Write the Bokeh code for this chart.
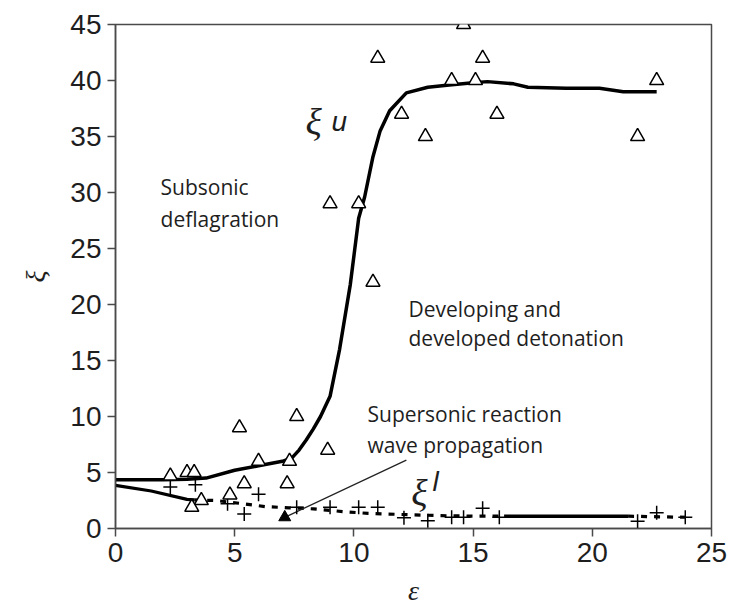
from bokeh.plotting import figure
from bokeh.models import Label, Range1d, FixedTicker
from bokeh.embed import file_html
from bokeh.resources import INLINE

# Upper limit xi_u: measured points (open triangles)
eps_u = [14.6, 11.0, 15.4, 14.1, 15.1, 22.7, 12.0, 16.0, 13.0, 21.9,
         9.0, 10.2, 10.8, 7.6, 5.2, 8.9, 6.0, 7.3, 2.3, 3.0, 3.3,
         5.4, 7.2, 4.8, 3.6, 3.2]
xi_u = [45, 42, 42, 40, 40, 40, 37, 37, 35, 35,
        29, 29, 22, 10, 9, 7, 6, 6, 4.7, 5, 5,
        4, 4, 3, 2.5, 1.9]

# Lower limit xi_l: measured points (crosses)
eps_l = [2.3, 3.35, 4.7, 5.4, 6.0, 7.6, 9.0, 10.2, 11.0, 12.1, 13.1,
         14.1, 14.6, 15.4, 16.1, 21.9, 22.7, 23.9]
xi_l = [3.7, 3.9, 2.2, 1.3, 3.05, 1.9, 1.9, 1.9, 1.9, 0.95, 0.7,
        1.0, 1.0, 1.8, 1.0, 0.65, 1.4, 1.0]

# Fitted boundary curves
fit_u_eps = [0, 1, 2, 3, 3.8, 5.0, 6.0, 7.0, 7.4, 7.7, 8.0, 8.3, 8.6, 9.0,
             9.4, 9.85, 10.2, 10.45, 10.8, 11.1, 11.5, 12.2, 13.1, 14.0,
             15.0, 15.6, 16.7, 17.3, 18.9, 20.3, 21.3, 22.7]
fit_u_xi = [4.35, 4.35, 4.35, 4.4, 4.5, 5.2, 5.6, 6.0, 6.3, 7.0, 7.9, 8.9,
            10.0, 11.8, 16.0, 21.8, 27.7, 29.6, 33.2, 35.5, 37.3, 38.9, 39.4,
            39.6, 39.8, 39.9, 39.7, 39.4, 39.3, 39.3, 39.0, 39.0]

fit_l_eps = [0, 1.5, 3.0, 3.3, 4.2, 5.4, 6.3, 7.3, 8.3, 9.6, 10.6, 12.0,
             13.6, 15.0, 16.3, 21.5, 24.0]
fit_l_xi = [3.85, 3.35, 2.6, 2.55, 2.5, 2.2, 1.95, 1.85, 1.75, 1.5, 1.35,
            1.25, 1.15, 1.1, 1.1, 1.1, 1.0]

# Supersonic-reaction pointer: from the text to the filled marker
pointer_eps = [12.2, 7.1]
pointer_xi = [6.1, 1.0]

x_ticks = [0, 5, 10, 15, 20, 25]
y_ticks = [0, 5, 10, 15, 20, 25, 30, 35, 40, 45]

AX = "#4a4a4a"
TXT = "#1e1e1e"
NOTE_FONT = "Open Sans"

p = figure(width=733, height=613, x_range=Range1d(0, 25), y_range=Range1d(0, 45),
           output_backend="svg", toolbar_location=None,
           min_border_left=115, min_border_right=22,
           min_border_top=24, min_border_bottom=85)
p.background_fill_color = "white"
p.border_fill_color = "white"
p.outline_line_color = AX
p.outline_line_width = 1.5
p.xgrid.visible = False
p.ygrid.visible = False

for ax, ticks in ((p.xaxis[0], x_ticks), (p.yaxis[0], y_ticks)):
    ax.ticker = FixedTicker(ticks=ticks)
    ax.axis_line_color = AX
    ax.axis_line_width = 1.5
    ax.major_tick_line_color = AX
    ax.major_tick_line_width = 1.5
    ax.major_tick_in = 0
    ax.major_tick_out = 8
    ax.minor_tick_line_color = None
    ax.major_label_text_font = "Liberation Sans"
    ax.major_label_text_font_size = "28px"
    ax.major_label_text_color = TXT
    ax.axis_label_text_font = "Liberation Serif"
    ax.axis_label_text_font_style = "italic"
    ax.axis_label_text_color = TXT

p.xaxis.major_label_standoff = 6
p.yaxis.major_label_standoff = 6
p.xaxis.axis_label = "ε"
p.xaxis.axis_label_text_font_size = "28px"
p.xaxis.axis_label_standoff = 10
p.yaxis.axis_label = "ξ"
p.yaxis.axis_label_text_font_size = "28px"
p.yaxis.axis_label_standoff = 16

# fitted curves
p.line(fit_u_eps, fit_u_xi, line_color="black", line_width=3.5)
p.line(fit_l_eps[:4], fit_l_xi[:4], line_color="black", line_width=3.2)
p.line(fit_l_eps[3:15], fit_l_xi[3:15], line_color="black", line_width=3.2,
       line_dash="6 7")
p.line(fit_l_eps[14:16], fit_l_xi[14:16], line_color="black", line_width=3.5)
p.line(fit_l_eps[15:], fit_l_xi[15:], line_color="black", line_width=3.2,
       line_dash="6 7")

# pointer line and its filled head
p.line(pointer_eps, pointer_xi, line_color="#222222", line_width=1.3)
p.scatter([pointer_eps[1]], [pointer_xi[1]], marker="triangle", size=12,
          fill_color="black", line_color="black")

# measured points
p.scatter(eps_l, xi_l, marker="cross", size=14, line_color="black", line_width=1.5)
p.scatter(eps_u, xi_u, marker="triangle", size=14, fill_color="white",
          line_color="black", line_width=1.5)

# region notes
notes = [
    ("Subsonic", 1.89, 30.5),
    ("deflagration", 1.89, 27.6),
    ("Developing and", 12.29, 19.6),
    ("developed detonation", 12.29, 17.0),
    ("Supersonic reaction", 10.57, 10.2),
    ("wave propagation", 10.57, 7.5),
]
for t, x, y in notes:
    p.add_layout(Label(x=x, y=y, text=t, text_font=NOTE_FONT, text_font_size="21px",
                       text_color=TXT, text_baseline="middle", text_align="left"))

# curve names
for t, x, y in (("ξ", 7.97, 36.3), ("ξ", 12.41, 3.2)):
    p.add_layout(Label(x=x, y=y, text=t, text_font="Liberation Serif",
                       text_font_style="italic", text_font_size="38px",
                       text_color=TXT, text_baseline="alphabetic"))
for t, x, y in (("u", 9.06, 36.3), ("l", 13.3, 4.2)):
    p.add_layout(Label(x=x, y=y, text=t, text_font="Liberation Sans",
                       text_font_style="italic", text_font_size="28px",
                       text_color=TXT, text_baseline="alphabetic"))

open("out.html", "w").write(file_html(p, INLINE))
